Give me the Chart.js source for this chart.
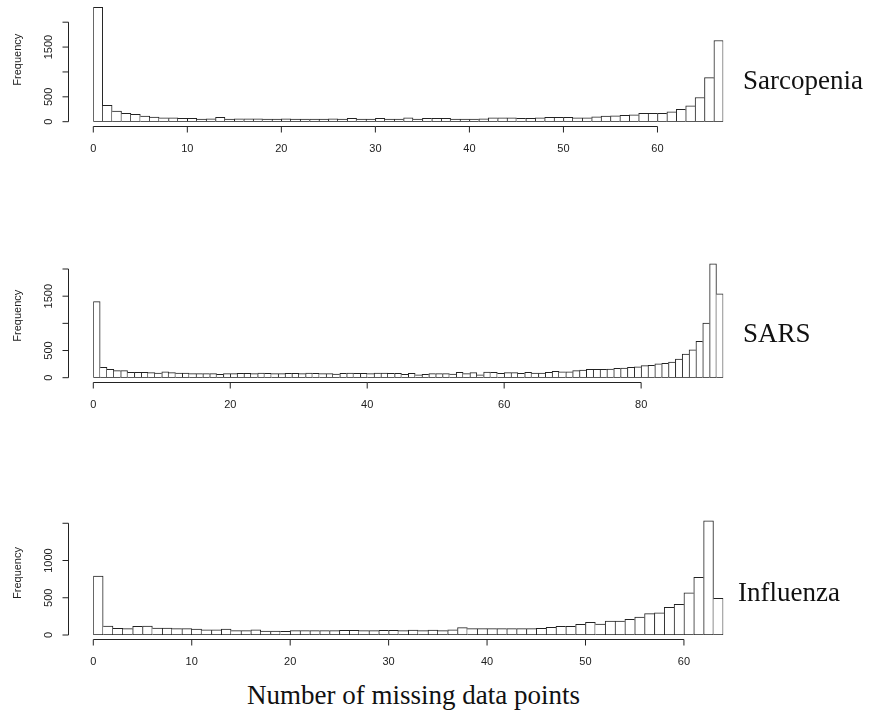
<!DOCTYPE html>
<html lang="en">
<head>
    <meta charset="UTF-8">
    <title>Number of missing data points</title>
    <script src="https://cdn.jsdelivr.net/npm/chart.js"></script>
    <style>
        body {
            margin: 0;
            width: 869px;
            height: 712px;
            background: #fff;
            position: relative;
            overflow: hidden;
        }

        .panel {
            position: absolute;
            left: 0;
            width: 869px;
        }

        .name {
            position: absolute;
            font-family: 'Liberation Serif', 'Times New Roman', serif;
            font-size: 27px;
            line-height: 1;
            color: #111;
            white-space: nowrap;
        }
    </style>
</head>
<body>
    <div class="panel" style="top:0;height:170px"><canvas id="sarcopenia"></canvas></div>
    <div class="panel" style="top:250px;height:175px"><canvas id="sars"></canvas></div>
    <div class="panel" style="top:505px;height:175px"><canvas id="influenza"></canvas></div>

    <div class="name" style="left:743px;top:67px">Sarcopenia</div>
    <div class="name" style="left:743px;top:320px">SARS</div>
    <div class="name" style="left:738px;top:579px">Influenza</div>
    <div class="name" style="left:247px;top:682px">Number of missing data points</div>

    <script>
        // counts per bin (bin i covers i..i+1 missing points)
        const sarcopeniaCounts = [
            2300, 327, 213, 167, 147, 113, 93, 80, 80, 67,
            67, 53, 60, 87, 53, 60, 60, 60, 53, 53,
            60, 53, 53, 53, 53, 60, 53, 67, 53, 53,
            67, 53, 53, 80, 53, 67, 67, 67, 53, 53,
            53, 60, 80, 80, 80, 67, 67, 80, 87, 87,
            87, 80, 80, 100, 113, 120, 127, 140, 167, 167,
            167, 200, 247, 320, 487, 887, 1633
        ];
        const sarsCounts = [
            1400, 190, 153, 129, 129, 98, 98, 98, 92, 86,
            110, 92, 86, 86, 74, 74, 74, 74, 61, 74,
            74, 80, 80, 74, 86, 80, 74, 74, 80, 80,
            74, 86, 80, 74, 74, 68, 80, 86, 80, 80,
            74, 86, 86, 80, 80, 61, 80, 55, 61, 74,
            74, 74, 67, 98, 74, 92, 55, 104, 98, 80,
            92, 92, 80, 98, 86, 86, 98, 116, 110, 110,
            129, 141, 153, 153, 153, 159, 172, 178, 190, 202,
            221, 227, 257, 264, 288, 343, 435, 515, 668, 1005,
            2096, 1545
        ];
        const influenzaCounts = [
            791, 121, 89, 85, 116, 121, 94, 94, 85, 85,
            80, 71, 71, 80, 58, 58, 71, 54, 54, 49,
            58, 58, 58, 58, 58, 62, 62, 58, 58, 62,
            62, 58, 67, 58, 67, 58, 71, 98, 85, 85,
            85, 85, 85, 85, 85, 89, 103, 116, 116, 143,
            170, 147, 188, 188, 210, 241, 286, 299, 371, 411,
            567, 773, 1533, 492
        ];

        // axis ticks; empty label = tick drawn without text
        const sarcopeniaXTicks = [0, 10, 20, 30, 40, 50, 60];
        const sarsXTicks = [0, 20, 40, 60, 80];
        const influenzaXTicks = [0, 10, 20, 30, 40, 50, 60];
        const sarcopeniaYTicks = [0, 500, 1000, 1500, 2000];
        const sarcopeniaYLabels = ['0', '500', '', '1500', ''];
        const sarsYTicks = [0, 500, 1000, 1500, 2000];
        const sarsYLabels = ['0', '500', '', '1500', ''];
        const influenzaYTicks = [0, 500, 1000, 1500];
        const influenzaYLabels = ['0', '500', '1000', ''];
        const yTitle = 'Frequency';

        const INK = '#222';

        // base-graphics style axes: detached lines spanning first..last tick
        function rAxes(xTicks, yTicks, yLabels) {
            return {
                id: 'rAxes',
                afterDraw(chart) {
                    const { ctx, chartArea: a, scales: { x, y } } = chart;
                    ctx.save();
                    ctx.strokeStyle = INK;
                    ctx.fillStyle = INK;
                    ctx.lineWidth = 1;
                    ctx.font = '11px "Liberation Sans", Arial, sans-serif';

                    // x axis
                    const ay = Math.round(a.bottom + 4) + 0.5;
                    const xs = xTicks.map(v => x.getPixelForValue(v));
                    ctx.beginPath();
                    ctx.moveTo(xs[0], ay);
                    ctx.lineTo(xs[xs.length - 1], ay);
                    xs.forEach(px => {
                        ctx.moveTo(px, ay);
                        ctx.lineTo(px, ay + 6);
                    });
                    ctx.stroke();
                    ctx.textAlign = 'center';
                    ctx.textBaseline = 'middle';
                    xTicks.forEach((v, i) => ctx.fillText(String(v), xs[i], ay + 22));

                    // y axis
                    const ax = Math.round(a.left - 25) + 0.5;
                    const ys = yTicks.map(v => y.getPixelForValue(v));
                    ctx.beginPath();
                    ctx.moveTo(ax, ys[0]);
                    ctx.lineTo(ax, ys[ys.length - 1]);
                    ys.forEach(py => {
                        ctx.moveTo(ax, py);
                        ctx.lineTo(ax - 6, py);
                    });
                    ctx.stroke();
                    yLabels.forEach((t, i) => {
                        if (!t) return;
                        ctx.save();
                        ctx.translate(ax - 20, ys[i]);
                        ctx.rotate(-Math.PI / 2);
                        ctx.fillText(t, 0, 0);
                        ctx.restore();
                    });

                    ctx.save();
                    ctx.translate(18, (a.top + a.bottom) / 2 - 2);
                    ctx.rotate(-Math.PI / 2);
                    ctx.fillText(yTitle, 0, 0);
                    ctx.restore();

                    ctx.restore();
                }
            };
        }

        function histogram(id, counts, yMax, padding, xTicks, yTicks, yLabels) {
            const last = counts.length - 1;
            return new Chart(document.getElementById(id), {
                type: 'bar',
                data: {
                    datasets: [{
                        data: counts.map((c, i) => ({ x: i + 0.5, y: c })),
                        backgroundColor: '#fff',
                        borderColor: INK,
                        // a shared edge is stroked once, by the taller neighbour
                        borderWidth: ctx => {
                            const i = ctx.dataIndex;
                            const c = counts[i];
                            return {
                                top: 1,
                                bottom: 1,
                                left: i === 0 || counts[i - 1] <= c ? 1 : 0,
                                right: i === last || counts[i + 1] < c ? 1 : 0
                            };
                        },
                        borderSkipped: false,
                        barPercentage: 1,
                        categoryPercentage: 1
                    }]
                },
                options: {
                    responsive: true,
                    maintainAspectRatio: false,
                    animation: false,
                    layout: { padding },
                    scales: {
                        x: { type: 'linear', min: 0, max: counts.length, offset: false, display: false },
                        y: { min: 0, max: yMax, display: false }
                    },
                    plugins: {
                        legend: { display: false },
                        tooltip: { enabled: false }
                    }
                },
                plugins: [rAxes(xTicks, yTicks, yLabels)]
            });
        }

        histogram('sarcopenia', sarcopeniaCounts, 2412,
            { left: 93.3, right: 145.7, top: 1.7, bottom: 48.3 },
            sarcopeniaXTicks, sarcopeniaYTicks, sarcopeniaYLabels);
        histogram('sars', sarsCounts, 2208,
            { left: 93.3, right: 145.7, top: 7.7, bottom: 47.3 },
            sarsXTicks, sarsYTicks, sarsYLabels);
        histogram('influenza', influenzaCounts, 1611,
            { left: 93.3, right: 145.7, top: 10, bottom: 45 },
            influenzaXTicks, influenzaYTicks, influenzaYLabels);
    </script>
</body>
</html>
